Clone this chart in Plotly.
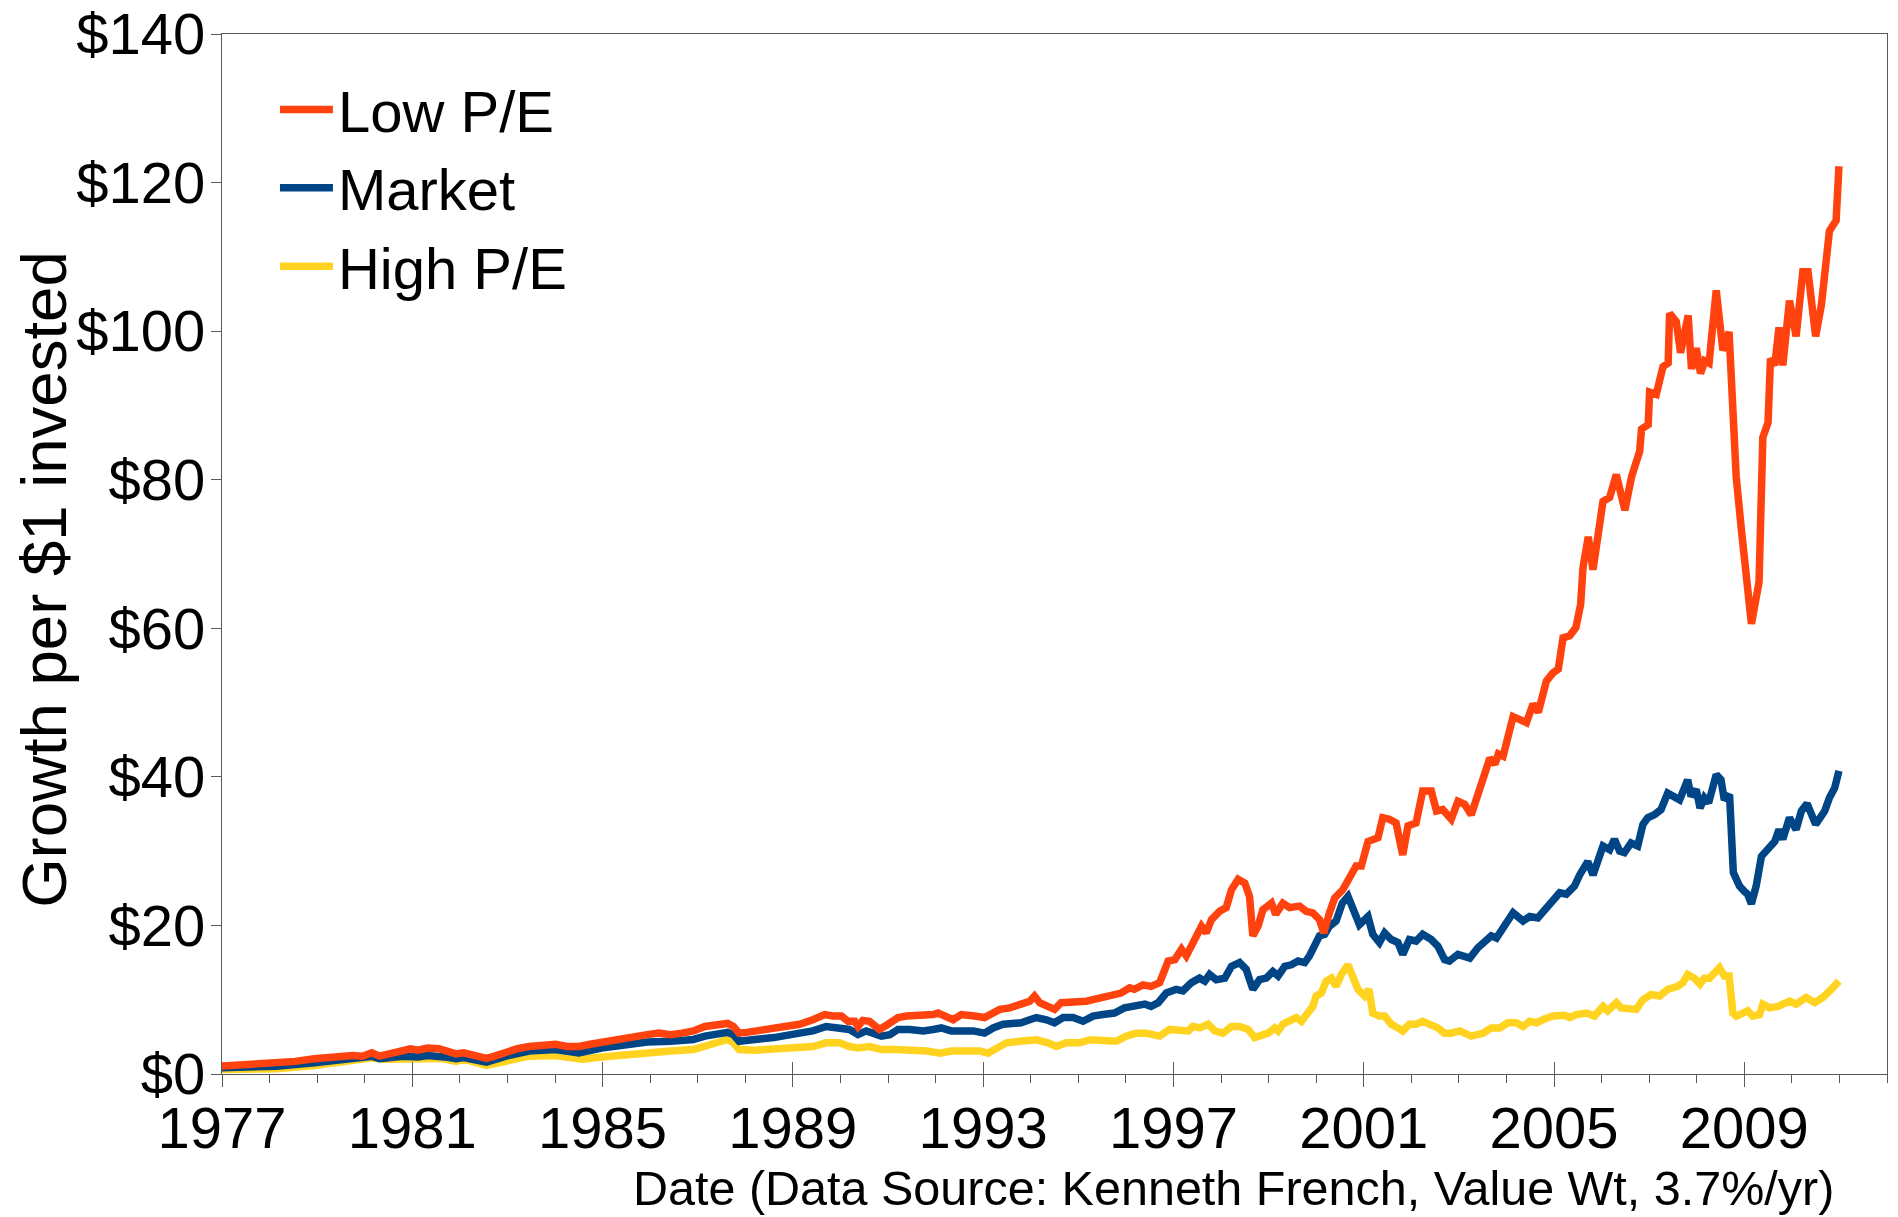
import plotly.graph_objects as go

# ---------------- data ----------------
low_pe_year = [
    1977.0, 1977.74, 1978.14, 1978.54, 1978.94, 1979.35, 1979.75, 1979.95, 1980.15, 1980.31,
    1980.55, 1980.8, 1980.96, 1981.12, 1981.32, 1981.56, 1981.76, 1981.92, 1982.08, 1982.32,
    1982.56, 1982.73, 1982.97, 1983.21, 1983.45, 1983.77, 1984.01, 1984.25, 1984.5, 1984.74,
    1984.98, 1985.22, 1985.46, 1985.7, 1985.94, 1986.18, 1986.43, 1986.67, 1986.91, 1987.15,
    1987.39, 1987.63, 1987.75, 1987.87, 1988.03, 1988.36, 1988.6, 1988.84,
    1989.14, 1989.42, 1989.67, 1989.84, 1990.02, 1990.16, 1990.3, 1990.37, 1990.47, 1990.61,
    1990.82, 1991.0, 1991.21, 1991.39, 1991.56, 1991.77, 1991.95, 1992.05, 1992.23, 1992.37,
    1992.54, 1992.68, 1992.82, 1993.03, 1993.17, 1993.35, 1993.56, 1993.77, 1993.98, 1994.08,
    1994.19, 1994.36, 1994.5, 1994.64, 1994.82, 1994.96, 1995.17, 1995.31, 1995.48, 1995.73,
    1995.9, 1996.08, 1996.18, 1996.36,
    1996.53, 1996.71, 1996.89, 1997.03, 1997.17, 1997.27, 1997.41, 1997.59, 1997.69, 1997.8,
    1997.97, 1998.11, 1998.22, 1998.36, 1998.5, 1998.6, 1998.67, 1998.78, 1998.88, 1999.06,
    1999.15, 1999.3, 1999.44, 1999.65, 1999.79, 1999.93, 2000.07, 2000.16, 2000.28, 2000.39,
    2000.56, 2000.7, 2000.84, 2000.95, 2001.09, 2001.3, 2001.4, 2001.54, 2001.68, 2001.82,
    2001.93, 2002.1, 2002.24, 2002.42, 2002.53, 2002.66, 2002.84, 2002.98, 2003.12, 2003.26,
    2003.4, 2003.54,
    2003.65, 2003.76, 2003.83, 2003.93, 2004.04, 2004.14, 2004.42, 2004.56, 2004.67, 2004.84,
    2004.98, 2005.09, 2005.19, 2005.33, 2005.46, 2005.56, 2005.61, 2005.72, 2005.82, 2005.93,
    2006.03, 2006.17, 2006.31, 2006.49, 2006.63, 2006.8, 2006.84, 2006.98, 2007.01, 2007.15,
    2007.29, 2007.4, 2007.43, 2007.57, 2007.66, 2007.82, 2007.89, 2007.99, 2008.08, 2008.17,
    2008.26, 2008.41, 2008.55, 2008.68, 2008.76, 2008.83, 2008.94, 2009.03, 2009.15, 2009.31,
    2009.39, 2009.5, 2009.55, 2009.64, 2009.73, 2009.81, 2009.95, 2010.09, 2010.23, 2010.34,
    2010.5, 2010.62, 2010.76, 2010.79, 2010.93, 2010.99,
]
low_pe_value = [
    1.06, 1.3, 1.4, 1.7, 2.05, 2.3, 2.5, 2.4, 2.85, 2.4,
    2.8, 3.1, 3.4, 3.2, 3.5, 3.4, 3.0, 2.7, 2.85, 2.4,
    2.1, 2.4, 2.95, 3.4, 3.7, 3.75, 4.0, 3.7, 3.7, 4.0,
    4.3, 4.65, 4.9, 5.0, 5.3, 5.5, 5.3, 5.5, 5.8, 6.4,
    6.7, 6.8, 6.4, 5.5, 5.6, 5.9, 6.1, 6.4,
    6.7, 7.3, 8.0, 7.8, 7.8, 7.1, 7.1, 6.4, 7.2, 7.1,
    6.0, 6.7, 7.6, 7.8, 7.8, 8.0, 8.0, 8.2, 7.6, 7.3,
    8.0, 8.0, 7.8, 7.6, 8.2, 8.7, 8.9, 9.4, 9.8, 10.5,
    9.6, 9.1, 8.7, 9.6, 9.6, 9.6, 9.8, 10.0, 10.2, 10.5,
    10.9, 11.6, 11.4, 12.0,
    11.8, 12.3, 15.2, 15.4, 16.8, 15.9, 17.7, 19.9, 19.0, 20.8,
    21.9, 22.4, 24.8, 26.2, 25.7, 23.9, 18.6, 19.9, 22.1, 23.0,
    21.5, 23.0, 22.4, 22.6, 21.9, 21.7, 20.8, 19.0, 21.7, 23.7,
    24.8, 26.6, 28.0, 28.0, 31.3, 31.8, 34.5, 34.3, 33.8, 29.5,
    33.4, 33.8, 38.1, 38.1, 35.4, 35.6, 34.3, 36.7, 36.3, 34.9,
    37.8, 40.5,
    42.5, 41.7, 43.1, 42.8, 45.9, 48.1, 47.3, 49.8, 48.7, 52.9,
    54.0, 54.5, 58.7, 59.0, 60.1, 63.2, 68.2, 72.3, 67.9, 72.1,
    77.1, 77.6, 80.7, 75.9, 80.4, 83.8, 86.8, 87.4, 91.8, 91.5,
    95.2, 95.7, 102.4, 101.3, 97.1, 102.1, 94.9, 97.7, 94.3, 96.0,
    95.7, 105.5, 97.4, 99.9, 88.8, 80.4, 73.2, 67.1, 60.6, 66.2,
    85.7, 87.7, 96.3, 95.4, 100.5, 95.4, 104.1, 99.3, 108.0, 108.0,
    99.3, 103.5, 110.5, 113.5, 114.9, 122.2,
]

market_year = [
    1977.0, 1978.14, 1978.94, 1979.75, 1980.15, 1980.31, 1980.8, 1981.12, 1981.32, 1981.68,
    1981.92, 1982.08, 1982.56, 1982.97, 1983.45, 1984.01, 1984.5, 1984.98, 1985.46, 1985.94,
    1986.43, 1986.91, 1987.15, 1987.63, 1987.75, 1987.87, 1988.2, 1988.6,
    1989.14, 1989.42, 1989.7, 1989.98, 1990.19, 1990.37, 1990.54, 1990.68, 1990.86, 1991.04,
    1991.21, 1991.46, 1991.74, 1991.95, 1992.12, 1992.33, 1992.58, 1992.79, 1993.03, 1993.21,
    1993.42, 1993.63, 1993.8, 1993.98, 1994.12, 1994.33, 1994.5, 1994.68, 1994.89, 1995.1,
    1995.31, 1995.52, 1995.76, 1995.97, 1996.15, 1996.4,
    1996.53, 1996.68, 1996.85, 1997.06, 1997.2, 1997.38, 1997.55, 1997.66, 1997.76, 1997.9,
    1998.08, 1998.22, 1998.39, 1998.53, 1998.6, 1998.67, 1998.81, 1998.95, 1999.09, 1999.2,
    1999.34, 1999.48, 1999.62, 1999.76, 1999.86, 1999.97, 2000.07, 2000.18, 2000.28, 2000.42,
    2000.55, 2000.67, 2000.77, 2000.91, 2001.09, 2001.19, 2001.33, 2001.44, 2001.58, 2001.72,
    2001.82, 2001.96, 2002.1, 2002.24, 2002.42, 2002.56, 2002.7, 2002.8,
    2002.98, 2003.23, 2003.4, 2003.54, 2003.68, 2003.79, 2003.93, 2004.14, 2004.35, 2004.49,
    2004.66, 2004.84, 2004.98, 2005.12, 2005.26, 2005.43, 2005.54, 2005.71, 2005.82, 2005.92,
    2006.03, 2006.17, 2006.27, 2006.38, 2006.48, 2006.62, 2006.76, 2006.87, 2006.97, 2007.11,
    2007.25, 2007.39, 2007.64, 2007.81, 2007.88, 2007.99, 2008.07, 2008.16, 2008.25, 2008.41,
    2008.51, 2008.58, 2008.69, 2008.77, 2008.9, 2009.0, 2009.07, 2009.15, 2009.25, 2009.36,
    2009.43, 2009.53, 2009.64, 2009.73, 2009.81, 2009.95, 2010.09, 2010.2, 2010.32, 2010.5,
    2010.69, 2010.79, 2010.9, 2010.99,
]
market_value = [
    0.84, 1.06, 1.5, 2.05, 2.4, 2.05, 2.4, 2.3, 2.5, 2.3,
    2.05, 2.2, 1.6, 2.4, 3.1, 3.3, 2.85, 3.5, 4.0, 4.3,
    4.4, 4.65, 5.1, 5.6, 5.3, 4.4, 4.65, 4.9,
    5.5, 5.8, 6.4, 6.2, 6.0, 5.3, 5.8, 5.5, 5.1, 5.3,
    6.0, 6.0, 5.8, 6.0, 6.2, 5.8, 5.8, 5.8, 5.5, 6.2,
    6.7, 6.7, 6.9, 7.3, 7.6, 7.3, 6.9, 7.6, 7.6, 7.1,
    7.8, 8.0, 8.2, 8.9, 9.1, 9.4,
    9.1, 9.6, 10.9, 11.4, 11.2, 12.3, 12.9, 12.5, 13.4, 12.7,
    12.9, 14.5, 15.0, 14.1, 12.7, 11.4, 12.7, 12.9, 13.8, 13.2,
    14.5, 14.7, 15.2, 15.0, 15.9, 17.2, 18.6, 18.8, 19.9, 20.6,
    23.0, 23.9, 22.4, 20.1, 21.2, 18.8, 17.7, 19.0, 18.1, 17.7,
    16.1, 18.1, 17.9, 18.8, 18.1, 17.2, 15.4, 15.2,
    16.1, 15.6, 17.0, 17.7, 18.6, 18.3, 19.5, 21.7, 20.6, 21.2,
    21.0, 22.4, 23.3, 24.4, 24.2, 25.3, 26.8, 28.6, 26.8, 28.4,
    30.7, 30.2, 31.6, 30.0, 29.8, 31.1, 30.7, 33.6, 34.5, 34.9,
    35.6, 37.8, 36.9, 39.6, 37.4, 38.3, 35.8, 37.2, 36.5, 40.3,
    39.6, 36.9, 37.6, 27.1, 25.3, 24.6, 24.2, 22.9, 25.3, 29.3,
    29.8, 30.4, 31.3, 32.9, 31.6, 34.5, 32.9, 35.4, 36.4, 33.6,
    35.4, 37.2, 38.5, 40.8,
]

high_pe_year = [
    1977.0, 1978.14, 1978.94, 1979.75, 1980.15, 1980.39, 1980.8, 1981.28, 1981.6, 1981.92,
    1982.08, 1982.56, 1982.97, 1983.45, 1984.01, 1984.57, 1984.98, 1985.46, 1985.94, 1986.43,
    1986.91, 1987.23, 1987.63, 1987.75, 1987.87, 1988.2, 1988.6,
    1989.14, 1989.42, 1989.7, 1989.98, 1990.19, 1990.37, 1990.61, 1990.86, 1991.18, 1991.53,
    1991.81, 1992.09, 1992.33, 1992.65, 1992.93, 1993.1, 1993.28, 1993.49, 1993.77, 1994.12,
    1994.36, 1994.54, 1994.75, 1995.03, 1995.24, 1995.52, 1995.8, 1996.01, 1996.22, 1996.43,
    1996.53, 1996.71, 1996.92, 1997.13, 1997.31, 1997.41, 1997.55, 1997.73, 1997.87, 1998.04,
    1998.22, 1998.39, 1998.57, 1998.71, 1998.85, 1998.99, 1999.13, 1999.2, 1999.3, 1999.44,
    1999.58, 1999.69, 1999.79, 1999.93, 2000.0, 2000.11, 2000.21, 2000.32, 2000.42, 2000.53,
    2000.67, 2000.77, 2000.88, 2001.02, 2001.11, 2001.19, 2001.33, 2001.44, 2001.58, 2001.72,
    2001.82, 2001.96, 2002.1, 2002.24, 2002.38, 2002.56, 2002.7,
    2002.84, 2003.02, 2003.26, 2003.51, 2003.68, 2003.86, 2004.03, 2004.21, 2004.35, 2004.49,
    2004.63, 2004.8, 2004.98, 2005.22, 2005.33, 2005.47, 2005.68, 2005.85, 2006.03, 2006.13,
    2006.31, 2006.41, 2006.62, 2006.73, 2006.87, 2007.04, 2007.22, 2007.39, 2007.6, 2007.71,
    2007.81, 2007.95, 2008.07, 2008.16, 2008.27, 2008.38, 2008.48, 2008.58, 2008.68, 2008.76,
    2008.83, 2008.97, 2009.07, 2009.18, 2009.32, 2009.39, 2009.53, 2009.71, 2009.81, 2009.95,
    2010.09, 2010.3, 2010.48, 2010.65, 2010.83, 2010.99,
]
high_pe_value = [
    0.6, 0.7, 1.15, 1.7, 2.2, 2.0, 2.1, 2.0, 2.1, 1.7,
    2.0, 1.15, 1.8, 2.4, 2.5, 2.0, 2.3, 2.6, 2.95, 3.1,
    3.3, 4.0, 4.65, 4.2, 3.3, 3.2, 3.3,
    3.5, 3.7, 4.2, 4.2, 3.7, 3.5, 3.7, 3.3, 3.3, 3.3,
    3.1, 2.8, 3.1, 3.1, 3.1, 2.8, 3.5, 4.2, 4.4, 4.6,
    4.2, 3.7, 4.2, 4.2, 4.6, 4.6, 4.4, 5.1, 5.5, 5.5,
    5.3, 5.1, 6.0, 5.8, 5.8, 6.4, 6.2, 6.7, 5.8, 5.5,
    6.4, 6.4, 6.0, 4.9, 5.3, 5.5, 6.2, 5.8, 6.7, 7.1,
    7.6, 7.1, 7.8, 9.1, 10.5, 10.9, 12.5, 12.9, 11.8, 13.4,
    14.7, 12.9, 11.4, 10.5, 11.4, 8.2, 7.8, 7.8, 6.7, 6.2,
    5.8, 6.7, 6.7, 7.1, 6.7, 6.2, 5.5,
    5.5, 5.8, 5.1, 5.5, 6.2, 6.2, 6.9, 6.9, 6.4, 7.1,
    6.9, 7.4, 7.8, 7.9, 7.6, 8.0, 8.2, 7.8, 9.1, 8.5,
    9.6, 8.9, 8.9, 8.7, 10.0, 10.7, 10.5, 11.4, 11.8, 12.3,
    13.4, 12.9, 12.1, 12.9, 12.9, 13.8, 14.3, 13.2, 13.2, 8.2,
    7.8, 8.2, 8.5, 7.8, 8.0, 9.4, 8.9, 9.1, 9.4, 9.8,
    9.4, 10.3, 9.6, 10.3, 11.4, 12.5,
]

x_tick_years = [1977, 1981, 1985, 1989, 1993, 1997, 2001, 2005, 2009]
x_tick_labels = [str(y) for y in x_tick_years]
y_tick_values = [0, 20, 40, 60, 80, 100, 120, 140]
y_tick_labels = ["$0", "$20", "$40", "$60", "$80", "$100", "$120", "$140"]

series_names = ["Low P/E", "Market", "High P/E"]
series_colors = ["#FF420E", "#004586", "#FFD320"]

# ---------------- figure ----------------
FONT = "Liberation Sans, Arial, sans-serif"
AXIS_COLOR = "#595959"
X_RANGE = [1977, 2012]
Y_RANGE = [0, 140]
TICK_FONT = 58

fig = go.Figure()
# draw order: High P/E at the bottom, Low P/E on top
for name, xs, ys, col in [
    (series_names[2], high_pe_year, high_pe_value, series_colors[2]),
    (series_names[1], market_year, market_value, series_colors[1]),
    (series_names[0], low_pe_year, low_pe_value, series_colors[0]),
]:
    fig.add_trace(go.Scatter(
        x=xs, y=ys, name=name, mode="lines",
        line=dict(color=col, width=7.5, shape="linear"),
    ))

# empty helper trace so the overlaid axis (inner half of the major ticks) is drawn
fig.add_trace(go.Scatter(x=[], y=[], xaxis="x2", yaxis="y", showlegend=False,
                         hoverinfo="skip"))

fig.update_layout(
    width=1898, height=1217,
    margin=dict(l=222, r=11, t=34, b=143, pad=0),
    paper_bgcolor="white", plot_bgcolor="white",
    font=dict(family=FONT, color="black", size=TICK_FONT),
    showlegend=True,
    legend=dict(
        x=0.0318, y=0.970, xanchor="left", yanchor="top",
        traceorder="reversed",
        font=dict(family=FONT, size=58, color="black"),
        bgcolor="rgba(0,0,0,0)", borderwidth=0,
        itemwidth=53, tracegroupgap=0,
    ),
    xaxis=dict(
        range=X_RANGE, tickmode="array", tickvals=x_tick_years, ticktext=x_tick_labels,
        ticks="outside", ticklen=12, tickwidth=1.3, tickcolor=AXIS_COLOR,
        showline=True, linecolor=AXIS_COLOR, linewidth=1.3, mirror=True,
        showgrid=False, zeroline=False, automargin=False,
        ticklabelstandoff=-9,
        tickfont=dict(family=FONT, size=TICK_FONT, color="black"),
        minor=dict(tick0=1977, dtick=1, ticks="outside", ticklen=8,
                   tickwidth=1.3, tickcolor=AXIS_COLOR, showgrid=False),
    ),
    xaxis2=dict(
        range=X_RANGE, overlaying="x", anchor="y", side="bottom",
        tickmode="array", tickvals=x_tick_years,
        ticks="inside", ticklen=12, tickwidth=1.3, tickcolor=AXIS_COLOR,
        showticklabels=False, showline=False, showgrid=False, zeroline=False,
        automargin=False,
    ),
    yaxis=dict(
        range=Y_RANGE, tickmode="array", tickvals=y_tick_values, ticktext=y_tick_labels,
        ticks="outside", ticklen=10, tickwidth=1.3, tickcolor=AXIS_COLOR,
        showline=True, linecolor=AXIS_COLOR, linewidth=1.3, mirror=True,
        showgrid=False, zeroline=False, automargin=False,
        ticklabelstandoff=-6,
        tickfont=dict(family=FONT, size=TICK_FONT, color="black"),
    ),
    annotations=[
        dict(text="Growth per $1 invested", xref="paper", yref="paper",
             x=-0.107, y=0.476, xanchor="center", yanchor="middle",
             textangle=-90, showarrow=False,
             font=dict(family=FONT, size=63.5, color="black")),
        dict(text="Date (Data Source: Kenneth French, Value Wt, 3.7%/yr)",
             xref="paper", yref="paper", x=0.9694, y=-0.110,
             xanchor="right", yanchor="middle", showarrow=False,
             font=dict(family=FONT, size=48.5, color="black")),
    ],
)

fig.write_html("out.html", config={"displayModeBar": False},
               post_script="document.body.style.margin='0';document.body.style.overflow='hidden';")
